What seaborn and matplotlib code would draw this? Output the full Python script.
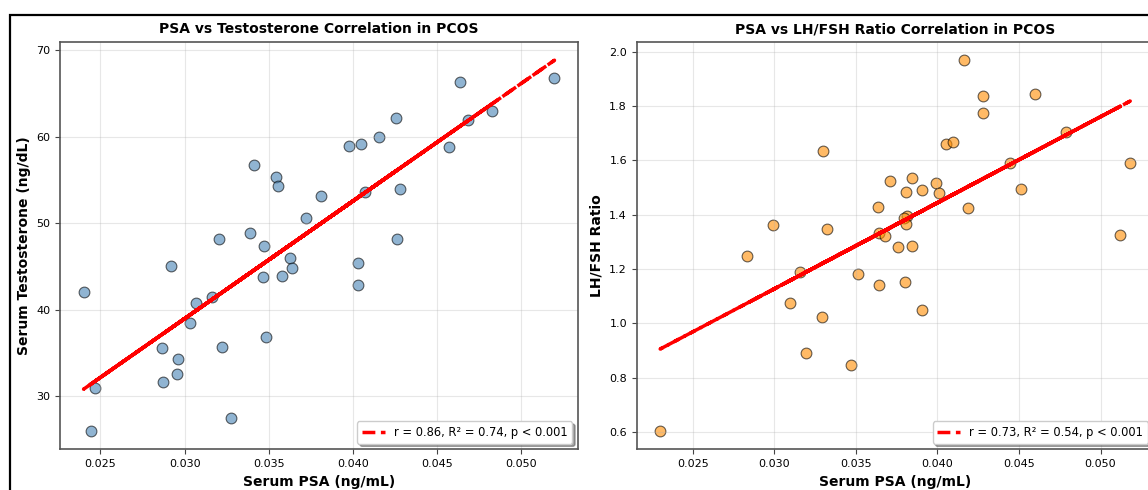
import numpy as np
import pandas as pd
import matplotlib
matplotlib.use("Agg")
import matplotlib.pyplot as plt
from matplotlib.patches import Rectangle
import seaborn as sns

# --- DATA ---
psa_testo = [0.04637, 0.05197, 0.04827, 0.04683, 0.04257, 0.04157, 0.04050, 0.03975,
             0.04568, 0.03413, 0.03540, 0.03556, 0.04279, 0.04070, 0.03811, 0.03722,
             0.03390, 0.03206, 0.04262, 0.03473, 0.03627, 0.03639, 0.04028, 0.04028,
             0.02917, 0.03467, 0.03580, 0.02400, 0.03163, 0.03069, 0.03030, 0.03486,
             0.02864, 0.03224, 0.02963, 0.02953, 0.02874, 0.02469, 0.03275, 0.02442]
testosterone = [66.27, 66.80, 62.99, 61.92, 62.18, 59.92, 59.15, 58.88,
                58.83, 56.72, 55.30, 54.26, 53.98, 53.57, 53.11, 50.60,
                48.90, 48.18, 48.18, 47.40, 45.92, 44.79, 45.37, 42.86,
                45.02, 43.82, 43.87, 42.02, 41.48, 40.82, 38.51, 36.89,
                35.55, 35.70, 34.28, 32.59, 31.58, 30.94, 27.47, 26.00]

psa_lhfsh = [0.03301, 0.03707, 0.03637, 0.02991, 0.03323, 0.03645, 0.03678, 0.04165,
             0.04277, 0.04601, 0.04277, 0.04790, 0.04053, 0.04095, 0.04446, 0.05182,
             0.03847, 0.03808, 0.03904, 0.03990, 0.04010, 0.04515, 0.04190, 0.03812,
             0.03798, 0.03806, 0.03757, 0.03847, 0.05122, 0.03802, 0.03904, 0.02833,
             0.03156, 0.03515, 0.03645, 0.03097, 0.03295, 0.03193, 0.03472, 0.02301]
lh_fsh = [1.634, 1.523, 1.428, 1.361, 1.345, 1.332, 1.322, 1.968,
          1.838, 1.845, 1.772, 1.704, 1.660, 1.668, 1.590, 1.591,
          1.535, 1.483, 1.491, 1.517, 1.481, 1.494, 1.425, 1.396,
          1.387, 1.366, 1.279, 1.284, 1.323, 1.153, 1.050, 1.249,
          1.187, 1.181, 1.142, 1.073, 1.022, 0.892, 0.847, 0.604]

titles = ["PSA vs Testosterone Correlation in PCOS", "PSA vs LH/FSH Ratio Correlation in PCOS"]
y_labels = ["Serum Testosterone (ng/dL)", "LH/FSH Ratio"]
x_label = "Serum PSA (ng/mL)"
fit_labels = ["r = 0.86, R\u00b2 = 0.74, p < 0.001", "r = 0.73, R\u00b2 = 0.54, p < 0.001"]
point_colors = ["steelblue", "darkorange"]


def draw_panel(ax, x, y, color, title, ylabel, fit_label):
    df = pd.DataFrame({"x": x, "y": y})
    sns.scatterplot(data=df, x="x", y="y", ax=ax, s=60, color=color, alpha=0.6,
                    edgecolor="black", linewidth=0.8)

    # regression line, drawn through the unsorted samples (so the dashes overlap)
    slope, intercept = np.polyfit(df["x"], df["y"], 1)
    order = [(i * 7) % len(df) for i in range(len(df))]
    xs = df["x"].to_numpy()[order]
    ax.plot(xs, slope * xs + intercept, color="red", linestyle="--",
            linewidth=2.5, label=fit_label)

    ax.set_title(title, fontsize=10, weight="bold")
    ax.set_xlabel(x_label, fontsize=10, weight="bold")
    ax.set_ylabel(ylabel, fontsize=10, weight="bold")
    ax.tick_params(labelsize=8, color="#444444")
    ax.grid(True, alpha=0.3)
    for spine in ax.spines.values():
        spine.set_color("#555555")
        spine.set_linewidth(1.2)
    ax.legend(loc="lower right", fontsize=8.3, shadow=True, fancybox=True)


fig = plt.figure(figsize=(11.48, 4.9), dpi=100)
ax1 = fig.add_axes([0.0523, 0.0831, 0.4512, 0.8318])
ax2 = fig.add_axes([0.5546, 0.0831, 0.4504, 0.8318])

draw_panel(ax1, psa_testo, testosterone, point_colors[0], titles[0], y_labels[0], fit_labels[0])
draw_panel(ax2, psa_lhfsh, lh_fsh, point_colors[1], titles[1], y_labels[1], fit_labels[1])

# outer frame of the (cropped) figure
fig.patches.append(Rectangle((10 / 1148, -0.5), 1.5, 1.5 - 15 / 490, transform=fig.transFigure,
                             fill=False, edgecolor="black", linewidth=1.6))

fig.savefig("out.png", dpi=100)
